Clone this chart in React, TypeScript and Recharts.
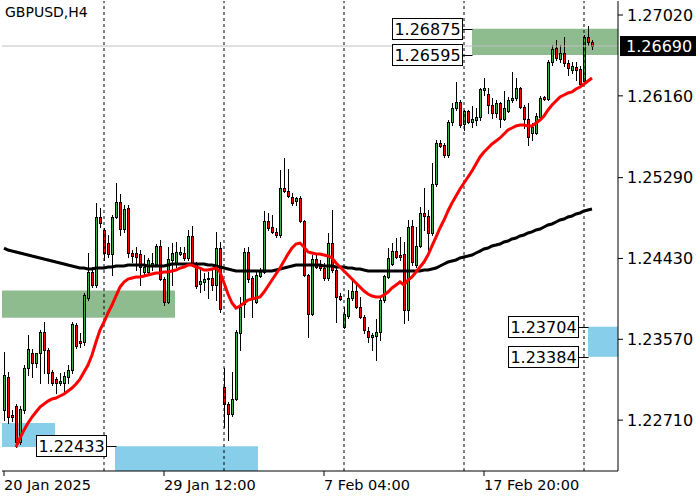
import React from 'react';
import {
  ComposedChart, Bar, Line, XAxis, YAxis,
  ReferenceArea, ReferenceLine, ReferenceDot,
} from 'recharts';

// GBPUSD H4, one entry per bar (20 Jan 2025 .. 20 Feb 2025)
const opens = [
  1.22818, 1.23169, 1.22764, 1.22860, 1.22477, 1.22818, 1.23264, 1.23424, 1.23318, 1.23424,
  1.23648, 1.23456, 1.23222, 1.23147, 1.23105, 1.23105, 1.23169, 1.23243, 1.23722, 1.23552,
  1.23541, 1.24009, 1.24286, 1.24148, 1.24871, 1.24733, 1.24594, 1.24477, 1.24871, 1.25031,
  1.24743, 1.24967, 1.24488, 1.24488, 1.24477, 1.24286, 1.24286, 1.24360, 1.24371, 1.24563,
  1.24211, 1.23967, 1.24414, 1.24382, 1.24477, 1.24488, 1.24435, 1.24669, 1.24382, 1.24158,
  1.24180, 1.24211, 1.24222, 1.24148, 1.24541, 1.23062, 1.22881, 1.22775, 1.22935, 1.23637,
  1.23945, 1.24499, 1.24222, 1.23967, 1.24243, 1.24286, 1.24829, 1.24765, 1.24712, 1.24680,
  1.25180, 1.25148, 1.25084, 1.25041, 1.25073, 1.24829, 1.24254, 1.23839, 1.24424, 1.24350,
  1.24328, 1.24222, 1.24594, 1.24307, 1.24031, 1.23701, 1.23818, 1.24009, 1.24084, 1.23914,
  1.23807, 1.23658, 1.23594, 1.23605, 1.23648, 1.23988, 1.24233, 1.24371, 1.24509, 1.24467,
  1.24477, 1.23882, 1.24775, 1.24360, 1.24563, 1.24914, 1.24882, 1.24701, 1.25222, 1.25658,
  1.25637, 1.25531, 1.25882, 1.26031, 1.26095, 1.25861, 1.25999, 1.25882, 1.25903, 1.25935,
  1.26222, 1.26180, 1.26063, 1.25978, 1.26084, 1.25914, 1.25999, 1.26116, 1.26137, 1.26244,
  1.26042, 1.25914, 1.25765, 1.25765, 1.25935, 1.26148, 1.26127, 1.26520, 1.26669, 1.26552,
  1.26616, 1.26510, 1.26435, 1.26467, 1.26446, 1.26318, 1.26786, 1.26733,
];
const highs = [
  1.23435, 1.23222, 1.22818, 1.22881, 1.22860, 1.23296, 1.23616, 1.23467, 1.23424, 1.23669,
  1.23754, 1.23477, 1.23243, 1.23169, 1.23211, 1.23222, 1.23296, 1.23754, 1.23743, 1.23637,
  1.24062, 1.24488, 1.24339, 1.25020, 1.24967, 1.24754, 1.24680, 1.24892, 1.25233, 1.25116,
  1.24999, 1.24999, 1.24520, 1.24552, 1.24520, 1.24467, 1.24435, 1.24488, 1.24584, 1.24626,
  1.24233, 1.24552, 1.24594, 1.24605, 1.24552, 1.24552, 1.24733, 1.24775, 1.24392, 1.24328,
  1.24275, 1.24286, 1.24328, 1.24712, 1.24605, 1.23264, 1.22903, 1.23222, 1.23669, 1.24020,
  1.24541, 1.24552, 1.24243, 1.24286, 1.24328, 1.24935, 1.24914, 1.24892, 1.24754, 1.25371,
  1.25499, 1.25382, 1.25126, 1.25084, 1.25095, 1.24839, 1.24265, 1.24467, 1.24488, 1.24414,
  1.24382, 1.24701, 1.24946, 1.24339, 1.24062, 1.23914, 1.24094, 1.24201, 1.24180, 1.24020,
  1.23828, 1.23701, 1.23637, 1.23786, 1.24020, 1.24254, 1.24541, 1.24594, 1.24648, 1.24658,
  1.24605, 1.24839, 1.24839, 1.24765, 1.24978, 1.25180, 1.24946, 1.25446, 1.25690, 1.25690,
  1.25658, 1.25903, 1.26084, 1.26308, 1.26116, 1.26010, 1.26010, 1.26052, 1.26031, 1.26244,
  1.26350, 1.26244, 1.26137, 1.26116, 1.26095, 1.26212, 1.26148, 1.26414, 1.26350, 1.26254,
  1.26063, 1.26084, 1.25871, 1.25978, 1.26159, 1.26159, 1.26542, 1.26701, 1.26754, 1.26701,
  1.26786, 1.26542, 1.26520, 1.26520, 1.26478, 1.26808, 1.26903, 1.26754,
];
const lows = [
  1.22711, 1.22679, 1.22701, 1.22424, 1.22456, 1.22786, 1.23190, 1.23169, 1.23275, 1.23105,
  1.23211, 1.23105, 1.23084, 1.22998, 1.23084, 1.22998, 1.23105, 1.23211, 1.23477, 1.23488,
  1.23509, 1.23988, 1.24126, 1.24126, 1.24765, 1.24414, 1.24446, 1.24254, 1.24860, 1.24680,
  1.24712, 1.24446, 1.24392, 1.24307, 1.24148, 1.24254, 1.24265, 1.24307, 1.24350, 1.24201,
  1.23935, 1.23956, 1.24148, 1.24339, 1.24467, 1.24414, 1.24414, 1.24371, 1.24116, 1.24073,
  1.24094, 1.24009, 1.24094, 1.23988, 1.23860, 1.22637, 1.22498, 1.22754, 1.22924, 1.23456,
  1.23807, 1.24180, 1.23807, 1.23956, 1.24233, 1.24275, 1.24733, 1.24701, 1.24658, 1.24658,
  1.25137, 1.25084, 1.24999, 1.24999, 1.24818, 1.24243, 1.23594, 1.23828, 1.24328, 1.24307,
  1.24201, 1.24201, 1.24286, 1.23754, 1.23988, 1.23690, 1.23796, 1.23988, 1.23903, 1.23796,
  1.23637, 1.23541, 1.23456, 1.23350, 1.23562, 1.23967, 1.24222, 1.24360, 1.24435, 1.24414,
  1.23743, 1.23775, 1.24360, 1.24339, 1.24552, 1.24733, 1.24520, 1.24680, 1.25201, 1.25616,
  1.25510, 1.25510, 1.25850, 1.26010, 1.25829, 1.25797, 1.25871, 1.25829, 1.25850, 1.25903,
  1.26169, 1.25978, 1.25924, 1.25935, 1.25829, 1.25903, 1.25988, 1.26095, 1.26116, 1.26031,
  1.25818, 1.25637, 1.25690, 1.25754, 1.25924, 1.26116, 1.26116, 1.26488, 1.26542, 1.26520,
  1.26478, 1.26382, 1.26403, 1.26329, 1.26276, 1.26297, 1.26701, 1.26659,
];
const closes = [
  1.23190, 1.22743, 1.22743, 1.22477, 1.22828, 1.23264, 1.23467, 1.23318, 1.23424, 1.23648,
  1.23456, 1.23211, 1.23105, 1.23105, 1.23126, 1.23179, 1.23243, 1.23733, 1.23499, 1.23530,
  1.24041, 1.24286, 1.24148, 1.24871, 1.24807, 1.24488, 1.24477, 1.24871, 1.25031, 1.24743,
  1.24956, 1.24488, 1.24456, 1.24446, 1.24339, 1.24339, 1.24414, 1.24382, 1.24563, 1.24211,
  1.23967, 1.24424, 1.24488, 1.24499, 1.24499, 1.24435, 1.24669, 1.24382, 1.24137, 1.24190,
  1.24211, 1.24222, 1.24148, 1.24541, 1.23892, 1.22881, 1.22775, 1.22935, 1.23648, 1.23914,
  1.24499, 1.24211, 1.24009, 1.24254, 1.24286, 1.24829, 1.24754, 1.24712, 1.24680, 1.25180,
  1.25148, 1.25095, 1.25020, 1.25073, 1.24829, 1.24254, 1.23839, 1.24424, 1.24339, 1.24328,
  1.24222, 1.24594, 1.24307, 1.24020, 1.23999, 1.23839, 1.24009, 1.24084, 1.23914, 1.23807,
  1.23669, 1.23594, 1.23616, 1.23648, 1.23988, 1.24243, 1.24435, 1.24509, 1.24446, 1.24446,
  1.23882, 1.24765, 1.24392, 1.24563, 1.24914, 1.24882, 1.24701, 1.25222, 1.25658, 1.25627,
  1.25531, 1.25882, 1.26031, 1.26095, 1.25850, 1.25999, 1.25882, 1.25914, 1.25935, 1.26233,
  1.26244, 1.26063, 1.25978, 1.26084, 1.25914, 1.26031, 1.26116, 1.26137, 1.26244, 1.26042,
  1.25914, 1.25722, 1.25829, 1.25946, 1.26137, 1.26127, 1.26520, 1.26659, 1.26563, 1.26616,
  1.26510, 1.26456, 1.26478, 1.26435, 1.26286, 1.26786, 1.26733, 1.26690,
];

// red (fast) and black (slow) moving averages
const maFast = [
  null, null, null, 1.22424, 1.22520, 1.22605, 1.22679, 1.22743, 1.22796, 1.22850,
  1.22881, 1.22913, 1.22935, 1.22945, 1.22967, 1.22988, 1.23020, 1.23052, 1.23094, 1.23147,
  1.23222, 1.23296, 1.23403, 1.23541, 1.23669, 1.23754, 1.23850, 1.23935, 1.24031, 1.24126,
  1.24180, 1.24211, 1.24222, 1.24233, 1.24233, 1.24243, 1.24254, 1.24265, 1.24275, 1.24275,
  1.24286, 1.24286, 1.24297, 1.24307, 1.24328, 1.24339, 1.24360, 1.24360, 1.24339, 1.24328,
  1.24307, 1.24307, 1.24318, 1.24328, 1.24286, 1.24169, 1.24052, 1.23956, 1.23903, 1.23924,
  1.23956, 1.23988, 1.23999, 1.24009, 1.24020, 1.24073, 1.24137, 1.24201, 1.24265, 1.24328,
  1.24403, 1.24477, 1.24541, 1.24584, 1.24594, 1.24552, 1.24499, 1.24488, 1.24477, 1.24477,
  1.24467, 1.24456, 1.24435, 1.24382, 1.24339, 1.24297, 1.24254, 1.24211, 1.24169, 1.24126,
  1.24084, 1.24052, 1.24031, 1.24020, 1.24020, 1.24041, 1.24073, 1.24116, 1.24148, 1.24180,
  1.24148, 1.24201, 1.24233, 1.24286, 1.24339, 1.24392, 1.24467, 1.24563, 1.24658, 1.24754,
  1.24839, 1.24935, 1.25020, 1.25095, 1.25169, 1.25233, 1.25297, 1.25361, 1.25435, 1.25510,
  1.25563, 1.25605, 1.25648, 1.25680, 1.25712, 1.25754, 1.25797, 1.25818, 1.25839, 1.25850,
  1.25850, 1.25839, 1.25839, 1.25871, 1.25903, 1.25946, 1.26010, 1.26063, 1.26105, 1.26148,
  1.26169, 1.26190, 1.26201, 1.26233, 1.26254, 1.26286, 1.26318, 1.26350,
];
const maSlow = [
  1.24541, 1.24520, 1.24509, 1.24499, 1.24488, 1.24477, 1.24467, 1.24456, 1.24446, 1.24435,
  1.24424, 1.24414, 1.24403, 1.24392, 1.24382, 1.24371, 1.24360, 1.24350, 1.24339, 1.24328,
  1.24328, 1.24318, 1.24318, 1.24328, 1.24328, 1.24328, 1.24339, 1.24339, 1.24350, 1.24350,
  1.24350, 1.24360, 1.24360, 1.24360, 1.24360, 1.24360, 1.24350, 1.24350, 1.24350, 1.24350,
  1.24350, 1.24360, 1.24371, 1.24371, 1.24371, 1.24371, 1.24371, 1.24371, 1.24371, 1.24371,
  1.24371, 1.24360, 1.24360, 1.24350, 1.24339, 1.24328, 1.24318, 1.24307, 1.24297, 1.24297,
  1.24297, 1.24297, 1.24297, 1.24297, 1.24297, 1.24297, 1.24297, 1.24297, 1.24307, 1.24318,
  1.24328, 1.24339, 1.24350, 1.24360, 1.24360, 1.24360, 1.24360, 1.24360, 1.24360, 1.24360,
  1.24350, 1.24350, 1.24350, 1.24339, 1.24339, 1.24339, 1.24328, 1.24328, 1.24318, 1.24318,
  1.24307, 1.24297, 1.24297, 1.24297, 1.24297, 1.24297, 1.24297, 1.24297, 1.24297, 1.24297,
  1.24297, 1.24297, 1.24297, 1.24297, 1.24297, 1.24307, 1.24307, 1.24318, 1.24328, 1.24350,
  1.24371, 1.24392, 1.24403, 1.24414, 1.24435, 1.24446, 1.24456, 1.24467, 1.24488, 1.24509,
  1.24531, 1.24541, 1.24563, 1.24573, 1.24584, 1.24605, 1.24616, 1.24637, 1.24648, 1.24669,
  1.24680, 1.24701, 1.24712, 1.24733, 1.24743, 1.24765, 1.24786, 1.24797, 1.24818, 1.24839,
  1.24850, 1.24871, 1.24882, 1.24903, 1.24914, 1.24935, 1.24946, 1.24956,
];

const xTicks = [0, 40, 80, 120];
const xTickLabels = ['20 Jan 2025', '29 Jan 12:00', '7 Feb 04:00', '17 Feb 20:00'];
const yTicks = [1.2271, 1.2357, 1.2443, 1.2529, 1.2616, 1.2702];
const weekStarts = [25, 55, 85, 115, 145];
const lastPrice = 1.2669;

// supply / demand boxes, bar index and price
const greenZones = [
  { x1: 117, x2: 153.5, y1: 1.26595, y2: 1.26875 },
  { x1: -0.5, x2: 42.75, y1: 1.23800, y2: 1.24090 },
];
const blueZones = [
  { x1: -0.5, x2: 12.75, y1: 1.22425, y2: 1.22680 },
  { x1: 27.75, x2: 63.5, y1: 1.22100, y2: 1.22433 },
  { x1: 146, x2: 153.5, y1: 1.23384, y2: 1.23704 },
];
// price tags: bar index of the box's right edge
const tags = [
  { at: 114.5, price: 1.26875 },
  { at: 114.5, price: 1.26595 },
  { at: 143.5, price: 1.23704 },
  { at: 143.5, price: 1.23384 },
  { at: 25.5, price: 1.22433 },
];

const rows = opens.map((o, i) => ({
  i,
  o,
  h: highs[i],
  l: lows[i],
  c: closes[i],
  range: [lows[i], highs[i]],
  fast: maFast[i],
  slow: maSlow[i],
}));

const FONT = 'DejaVu Sans';
const UP = '#3cb043';
const DOWN = '#ff0000';

const Candle = (props: any) => {
  const { x, y, width, height, payload } = props;
  if (x == null || y == null || !payload) return null;
  const { o, h, l, c } = payload;
  const top = Math.min(y, y + height);
  const span = Math.abs(height);
  const py = (v: number) => top + (h === l ? 0 : ((h - v) / (h - l)) * span);
  const cx = Math.round(x + width / 2);
  const bTop = Math.round(py(Math.max(o, c)));
  const bBot = Math.round(py(Math.min(o, c)));
  return (
    <g>
      <line x1={cx + 0.5} x2={cx + 0.5} y1={Math.round(py(h))} y2={Math.round(py(l)) + 1} stroke="#000" strokeWidth={1} />
      {bBot - bTop < 1 ? (
        <line x1={cx - 1} x2={cx + 2} y1={bTop + 0.5} y2={bTop + 0.5} stroke="#000" strokeWidth={1} />
      ) : (
        <rect x={cx - 0.5} y={bTop + 0.5} width={2} height={bBot - bTop} fill={c >= o ? UP : DOWN} stroke="#000" strokeWidth={1} />
      )}
    </g>
  );
};

const XTick = (props: any) => {
  const { x, y, payload } = props;
  const idx = xTicks.indexOf(payload.value);
  return (
    <text x={x} y={y} dy="0.71em" textAnchor="start" fill="#000" fontSize={14.5} fontFamily={FONT}>
      {xTickLabels[idx]}
    </text>
  );
};

const PriceTag = (props: any) => {
  const { cx, cy, text } = props;
  if (cx == null || cy == null) return null;
  const rx = Math.round(cx) + 0.5;
  const ry = Math.round(cy) + 0.5;
  return (
    <g>
      <line x1={rx} x2={rx + 10} y1={ry} y2={ry} stroke="#000" strokeWidth={1} />
      <rect x={rx - 70} y={ry - 11} width={70} height={21} fill="#fff" stroke="#000" strokeWidth={1} />
      <text x={rx - 35} y={ry} dy="0.36em" textAnchor="middle" fill="#000" fontSize={16} fontFamily={FONT}>
        {text}
      </text>
    </g>
  );
};

const LastTag = (props: any) => {
  const { cx, cy, text } = props;
  if (cx == null || cy == null) return null;
  return (
    <g>
      <rect x={cx + 2} y={cy - 10} width={76} height={20} fill="#000" />
      <text x={cx + 8} y={cy} dy="0.36em" textAnchor="start" fill="#fff" fontSize={16} fontFamily={FONT}>
        {text}
      </text>
    </g>
  );
};

export default function App() {
  return (
    <div style={{ position: 'absolute', left: 0, top: 0, width: 700, height: 500, background: '#fff', fontFamily: FONT }}>
      <ComposedChart width={700} height={500} data={rows} margin={{ top: 1, right: 0, bottom: 0, left: 2 }}>
        <XAxis
          dataKey="i"
          type="number"
          domain={[-0.5, 153.5]}
          allowDataOverflow
          ticks={xTicks}
          interval={0}
          tick={<XTick />}
          tickSize={5}
          tickMargin={4}
          height={29}
          axisLine={{ stroke: '#000' }}
          tickLine={{ stroke: '#000' }}
        />
        <YAxis
          yAxisId="p"
          orientation="right"
          type="number"
          domain={[1.22169, 1.27169]}
          allowDataOverflow
          ticks={yTicks}
          interval={0}
          tickFormatter={(v: number) => v.toFixed(5)}
          tick={{ fill: '#000', fontSize: 16, fontFamily: FONT }}
          tickSize={5}
          tickMargin={4}
          width={82}
          axisLine={{ stroke: '#000' }}
          tickLine={{ stroke: '#000' }}
        />
        <YAxis
          yAxisId="edge"
          orientation="left"
          domain={[0, 1]}
          width={0}
          tick={false}
          tickLine={false}
          axisLine={{ stroke: '#000' }}
        />

        {greenZones.map((z, k) => (
          <ReferenceArea key={`g${k}`} yAxisId="p" x1={z.x1} x2={z.x2} y1={z.y1} y2={z.y2}
            fill="#8fbc8f" fillOpacity={1} stroke="none" ifOverflow="hidden" />
        ))}
        {blueZones.map((z, k) => (
          <ReferenceArea key={`b${k}`} yAxisId="p" x1={z.x1} x2={z.x2} y1={z.y1} y2={z.y2}
            fill="#87ceeb" fillOpacity={1} stroke="none" ifOverflow="hidden" />
        ))}
        <ReferenceLine yAxisId="p" y={lastPrice} stroke="#c0c0c0" strokeWidth={1} />
        {weekStarts.map((w) => (
          <ReferenceLine key={`w${w}`} yAxisId="p" x={w} stroke="#000" strokeWidth={1} strokeDasharray="3 3" />
        ))}

        <Bar yAxisId="p" dataKey="range" barSize={4} shape={<Candle />} isAnimationActive={false} />
        <Line yAxisId="p" dataKey="slow" type="linear" stroke="#000" strokeWidth={3} dot={false} activeDot={false} isAnimationActive={false} />
        <Line yAxisId="p" dataKey="fast" type="linear" stroke="#ff0000" strokeWidth={3} dot={false} activeDot={false} isAnimationActive={false} />

        {tags.map((t, k) => (
          <ReferenceDot key={`t${k}`} yAxisId="p" x={t.at} y={t.price} r={0} ifOverflow="visible"
            shape={(p: any) => <PriceTag {...p} text={t.price.toFixed(5)} />} />
        ))}
        <ReferenceDot yAxisId="p" x={153.5} y={lastPrice} r={0} ifOverflow="visible"
          shape={(p: any) => <LastTag {...p} text={lastPrice.toFixed(5)} />} />
      </ComposedChart>
      <div style={{ position: 'absolute', left: 5, top: 4, fontSize: 14, fontFamily: FONT, color: '#000', lineHeight: '17px' }}>
        GBPUSD,H4
      </div>
    </div>
  );
}
